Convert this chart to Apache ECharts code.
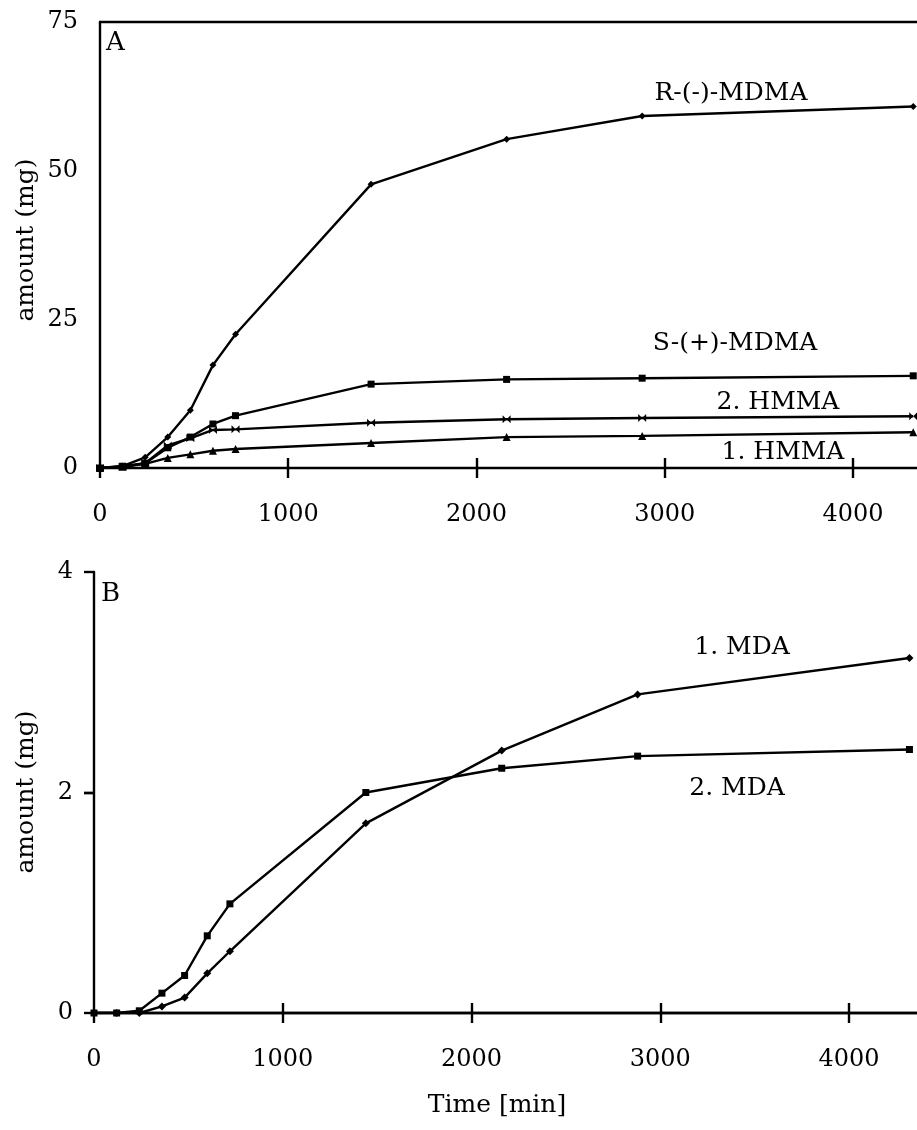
<!DOCTYPE html>
<html>
<head>
<meta charset="utf-8">
<script src="https://cdn.jsdelivr.net/npm/echarts@6/dist/echarts.min.js"></script>
<style>
html,body{margin:0;padding:0;background:#fff;}
#chart{width:917px;height:1130px;}
</style>
</head>
<body>
<div id="chart"></div>
<script>
// ---- data ----
var timeMin = [0, 120, 240, 360, 480, 600, 720, 1440, 2160, 2880, 4320];
var rMDMA = [0, 0.3, 1.8, 5.2, 9.7, 17.3, 22.5, 47.7, 55.3, 59.2, 60.8];
var sMDMA = [0, 0.3, 0.8, 3.4, 5.2, 7.4, 8.8, 14.1, 14.9, 15.1, 15.5];
var hmma2 = [0, 0.2, 0.8, 3.8, 5.0, 6.4, 6.5, 7.6, 8.2, 8.4, 8.7];
var hmma1 = [0, 0.2, 0.7, 1.7, 2.3, 2.9, 3.2, 4.2, 5.2, 5.4, 6.0];
var mda1 = [0, 0, 0, 0.06, 0.14, 0.36, 0.56, 1.72, 2.38, 2.89, 3.22];
var mda2 = [0, 0, 0.02, 0.18, 0.34, 0.70, 0.99, 2.0, 2.22, 2.33, 2.39];
var xTicks = [0, 1000, 2000, 3000, 4000];
var yTicksA = [0, 25, 50, 75];
var yTicksB = [0, 2, 4];

function pairs(xs, ys) { return xs.map(function (x, i) { return [x, ys[i]]; }); }
function plain(v) { return String(v); }

var FONT = 'DejaVu Serif';
var TICKFONT = 24;
var LW = 2.4;
var black = '#000';

function xAxes(gridIndex, max) {
  return [
    { type: 'value', gridIndex: gridIndex, position: 'bottom', min: 0, max: max,
      axisLine: { show: true, onZero: false, lineStyle: { color: black, width: LW } },
      axisTick: { show: true, inside: false, length: 10, customValues: xTicks, lineStyle: { color: black, width: LW } },
      axisLabel: { show: true, customValues: xTicks, formatter: plain, margin: 35, color: black, fontFamily: FONT, fontSize: TICKFONT },
      splitLine: { show: false } },
    { type: 'value', gridIndex: gridIndex, position: 'bottom', min: 0, max: max,
      axisLine: { show: false },
      axisTick: { show: true, inside: true, length: 10, customValues: xTicks.slice(1), lineStyle: { color: black, width: LW } },
      axisLabel: { show: false }, splitLine: { show: false } },
    { type: 'value', gridIndex: gridIndex, position: 'top', min: 0, max: max,
      axisLine: { show: true, lineStyle: { color: black, width: LW } },
      axisTick: { show: false }, axisLabel: { show: false }, splitLine: { show: false } }
  ];
}

var option = {
  backgroundColor: '#fff',
  animation: false,
  grid: [
    { left: 100, top: 22, right: 0, height: 446 },
    { left: 94, top: 572, right: 0, height: 441 }
  ],
  xAxis: xAxes(0, 4340).concat(xAxes(1, 4360)),
  yAxis: [
    { type: 'value', gridIndex: 0, min: 0, max: 75,
      axisLine: { show: true, lineStyle: { color: black, width: LW } },
      axisTick: { show: false },
      axisLabel: { customValues: yTicksA, formatter: plain, margin: 22, padding: [9, 0, 0, 0], color: black, fontFamily: FONT, fontSize: TICKFONT },
      splitLine: { show: false } },
    { type: 'value', gridIndex: 1, min: 0, max: 4,
      axisLine: { show: true, lineStyle: { color: black, width: LW } },
      axisTick: { show: true, length: 10, customValues: yTicksB, lineStyle: { color: black, width: LW } },
      axisLabel: { customValues: yTicksB, formatter: plain, margin: 21, padding: [6, 0, 0, 0], color: black, fontFamily: FONT, fontSize: TICKFONT },
      splitLine: { show: false } },
    { type: 'value', gridIndex: 1, min: 0, max: 4,
      axisLine: { show: false },
      axisTick: { show: true, inside: true, length: 10, customValues: [2], lineStyle: { color: black, width: LW } },
      axisLabel: { show: false }, splitLine: { show: false } }
  ],
  series: [
    { name: 'R-(-)-MDMA', type: 'line', xAxisIndex: 0, yAxisIndex: 0, data: pairs(timeMin, rMDMA),
      symbol: 'diamond', symbolSize: 7, lineStyle: { color: black, width: LW }, itemStyle: { color: black } },
    { name: 'S-(+)-MDMA', type: 'line', xAxisIndex: 0, yAxisIndex: 0, data: pairs(timeMin, sMDMA),
      symbol: 'rect', symbolSize: 7, lineStyle: { color: black, width: LW }, itemStyle: { color: black } },
    { name: '2. HMMA', type: 'line', xAxisIndex: 0, yAxisIndex: 0, data: pairs(timeMin, hmma2),
      symbol: 'path://M0,0L10,10L10,0L0,10Z', symbolSize: 8, lineStyle: { color: black, width: LW }, itemStyle: { color: black } },
    { name: '1. HMMA', type: 'line', xAxisIndex: 0, yAxisIndex: 0, data: pairs(timeMin, hmma1),
      symbol: 'triangle', symbolSize: 8, lineStyle: { color: black, width: LW }, itemStyle: { color: black } },
    { name: '1. MDA', type: 'line', xAxisIndex: 3, yAxisIndex: 1, data: pairs(timeMin, mda1),
      symbol: 'diamond', symbolSize: 8, lineStyle: { color: black, width: LW }, itemStyle: { color: black } },
    { name: '2. MDA', type: 'line', xAxisIndex: 3, yAxisIndex: 1, data: pairs(timeMin, mda2),
      symbol: 'rect', symbolSize: 7, lineStyle: { color: black, width: LW }, itemStyle: { color: black } }
  ],
  graphic: [
    { type: 'text', left: 106, top: 30, style: { text: 'A', font: '26px "DejaVu Serif"', fill: black } },
    { type: 'text', left: 101, top: 581, style: { text: 'B', font: '26px "DejaVu Serif"', fill: black } },
    { type: 'text', x: 731, y: 93, style: { text: 'R-(-)-MDMA', font: '25px "DejaVu Serif"', fill: black, align: 'center', verticalAlign: 'middle' } },
    { type: 'text', x: 735, y: 343, style: { text: 'S-(+)-MDMA', font: '25px "DejaVu Serif"', fill: black, align: 'center', verticalAlign: 'middle' } },
    { type: 'text', x: 778, y: 402, style: { text: '2. HMMA', font: '25px "DejaVu Serif"', fill: black, align: 'center', verticalAlign: 'middle' } },
    { type: 'text', x: 783, y: 452, style: { text: '1. HMMA', font: '25px "DejaVu Serif"', fill: black, align: 'center', verticalAlign: 'middle' } },
    { type: 'text', x: 742, y: 647, style: { text: '1. MDA', font: '25px "DejaVu Serif"', fill: black, align: 'center', verticalAlign: 'middle' } },
    { type: 'text', x: 737, y: 788, style: { text: '2. MDA', font: '25px "DejaVu Serif"', fill: black, align: 'center', verticalAlign: 'middle' } },
    { type: 'text', x: 26, y: 240, rotation: Math.PI / 2, style: { text: 'amount (mg)', font: '25px "DejaVu Serif"', fill: black, align: 'center', verticalAlign: 'middle' } },
    { type: 'text', x: 26, y: 792, rotation: Math.PI / 2, style: { text: 'amount (mg)', font: '25px "DejaVu Serif"', fill: black, align: 'center', verticalAlign: 'middle' } },
    { type: 'text', x: 497, y: 1105, style: { text: 'Time [min]', font: '25px "DejaVu Serif"', fill: black, align: 'center', verticalAlign: 'middle' } }
  ]
};

var chart = echarts.init(document.getElementById('chart'), null, { renderer: 'canvas' });
chart.setOption(option);
</script>
</body>
</html>
